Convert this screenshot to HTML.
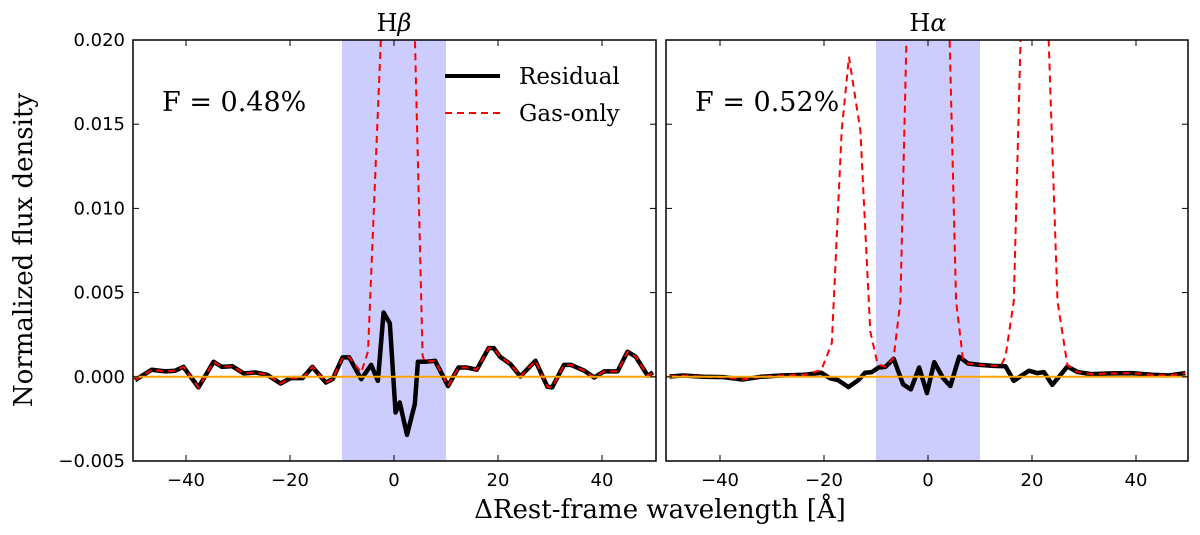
<!DOCTYPE html>
<html><head><meta charset="utf-8"><style>
body{margin:0;background:#fff;}
svg text{font-family:"DejaVu Sans","Liberation Sans",sans-serif;}
.serif{font-family:"DejaVu Serif","Liberation Serif",serif;}
</style></head><body>
<svg id="chart" width="1200" height="530" viewBox="0 0 1200 530" xmlns="http://www.w3.org/2000/svg"></svg>
<script>
// Left panel (H-beta) data, flux in units of 1e-3
const hbResX=[-49.8,-46.6,-44.0,-42.1,-40.5,-37.6,-34.7,-33.1,-31.1,-28.9,-26.6,-24.4,-21.8,-19.9,-17.6,-15.7,-13.1,-11.8,-9.9,-8.6,-6.3,-4.4,-3.1,-2.0,-0.8,0.3,1.1,2.5,4.0,4.6,5.9,7.9,10.4,12.4,14.0,15.9,18.2,19.2,20.4,22.4,24.3,27.2,29.5,30.4,32.7,34.0,36.6,38.5,40.4,43.0,44.9,46.5,48.8,49.8];
const hbResY=[-0.20,0.42,0.32,0.36,0.59,-0.63,0.89,0.59,0.63,0.20,0.26,0.12,-0.40,-0.08,-0.08,0.59,-0.34,-0.14,1.15,1.15,-0.14,0.71,-0.24,3.82,3.17,-2.12,-1.52,-3.45,-1.62,0.89,0.89,0.95,-0.55,0.55,0.55,0.42,1.70,1.70,1.19,0.75,0.02,0.95,-0.59,-0.63,0.71,0.71,0.36,-0.04,0.32,0.32,1.49,1.19,0.06,0.26];
const hbGasX=[-49.8,-46.6,-44.0,-42.1,-40.5,-37.6,-34.7,-33.1,-31.1,-28.9,-26.6,-24.4,-21.8,-19.9,-17.6,-15.7,-13.1,-11.8,-9.9,-8.6,-6.3,-5.0,-2.0,0.5,3.4,5.5,5.9,7.9,10.4,12.4,14.0,15.9,18.2,19.2,20.4,22.4,24.3,27.2,29.5,30.4,32.7,34.0,36.6,38.5,40.4,43.0,44.9,46.5,48.8,49.8];
const hbGasY=[-0.20,0.42,0.32,0.36,0.59,-0.63,0.89,0.59,0.63,0.20,0.26,0.12,-0.40,-0.08,-0.08,0.59,-0.34,-0.14,1.15,1.15,0.26,1.5,24,60,28,1.25,0.89,0.95,-0.55,0.55,0.55,0.42,1.70,1.70,1.19,0.75,0.02,0.95,-0.59,-0.63,0.71,0.71,0.36,-0.04,0.32,0.32,1.49,1.19,0.06,0.26];
// Right panel (H-alpha)
const haResX=[-49.7,-47.1,-43.2,-39.3,-35.7,-32.2,-28.3,-23.7,-20.5,-18.9,-17.3,-15.3,-13.4,-12.1,-10.8,-9.5,-8.2,-6.6,-4.8,-3.3,-1.7,-0.2,1.2,2.9,4.3,6.0,7.7,10.0,12.6,14.9,16.5,19.4,21.0,22.3,23.9,26.8,28.8,31.4,35.3,39.2,43.1,46.3,49.5];
const haResY=[0.02,0.08,0,-0.02,-0.16,0,0.08,0.12,0.24,-0.08,-0.2,-0.61,-0.2,0.24,0.28,0.55,0.59,1.07,-0.44,-0.75,0.55,-0.97,0.87,-0.08,-0.55,1.19,0.79,0.71,0.65,0.63,-0.24,0.36,0.22,0.28,-0.48,0.61,0.28,0.16,0.2,0.22,0.12,0.08,0.22];
const haGasX=[-49.7,-47.1,-43.2,-39.3,-35.7,-32.2,-28.3,-23.7,-20.5,-18.5,-16.6,-15.2,-13.0,-11.1,-9.7,-8.2,-6.6,-5.3,-4.0,-2.7,0,2.7,4.0,5.4,6.7,7.7,10.0,12.6,14.0,14.9,16.5,17.8,20.4,23.2,24.9,26.8,28.8,31.4,35.3,39.2,43.1,46.3,49.5];
const haGasY=[0.02,0.08,0,-0.02,-0.16,0,0.08,0.12,0.4,2,14.6,19,14.6,2.7,0.75,0.59,1.15,4.5,22,80,150,80,22,4.5,1.1,0.79,0.71,0.65,0.65,1.2,4.5,20,57,20,4.5,0.7,0.28,0.16,0.2,0.22,0.12,0.08,0.22];
const xTicks=[-40,-20,0,20,40];
const yTicks=[-0.005,0,0.005,0.010,0.015,0.020];
const yTickLabels=["\u22120.005","0.000","0.005","0.010","0.015","0.020"];

const NS="http://www.w3.org/2000/svg";
const svg=document.getElementById('chart');
function mk(tag,attrs,parent){const e=document.createElementNS(NS,tag);for(const k in attrs)e.setAttribute(k,attrs[k]);(parent||svg).appendChild(e);return e;}
const yTop=40,yBot=461;
function yS(v){return yTop+(0.020-v)/0.025*(yBot-yTop);}
const panels=[
 {x0:133,x1:656,c:394,s:5.2,rx:hbResX,ry:hbResY,gx:hbGasX,gy:hbGasY,title:"\u03B2",F:"F = 0.48%",name:"hbeta"},
 {x0:666,x1:1188,c:928,s:5.2,rx:haResX,ry:haResY,gx:haGasX,gy:haGasY,title:"\u03B1",F:"F = 0.52%",name:"halpha"}
];
panels.forEach((p,i)=>{
 const xS=v=>p.c+v*p.s;
 const g=mk('g',{});
 
 
 const cp=mk('clipPath',{id:'clip'+i},g);
 mk('rect',{x:p.x0,y:yTop,width:p.x1-p.x0,height:yBot-yTop},cp);
 const band=mk('rect',{x:xS(-10),y:yTop,width:xS(10)-xS(-10),height:yBot-yTop,fill:'#ccccff'},g);
 
 
 const cg=mk('g',{'clip-path':'url(#clip'+i+')'},g);
 const rp=mk('polyline',{points:p.rx.map((x,j)=>xS(x)+','+yS(p.ry[j]/1000)).join(' '),fill:'none',stroke:'#000','stroke-width':4.5,'stroke-linejoin':'round'},cg);
 
 
 const gp=mk('polyline',{points:p.gx.map((x,j)=>xS(x)+','+yS(p.gy[j]/1000)).join(' '),fill:'none',stroke:'#ff0000','stroke-width':2,'stroke-dasharray':'7,5'},cg);
 
 
 const zl=mk('line',{x1:p.x0,x2:p.x1,y1:yS(0),y2:yS(0),stroke:'#ffa500','stroke-width':2},g);
 
 
 const fr=mk('rect',{x:p.x0,y:yTop,width:p.x1-p.x0,height:yBot-yTop,fill:'none',stroke:'#000','stroke-width':1.5},g);
 
 
 xTicks.forEach(t=>{
  const x=xS(t);
  mk('line',{x1:x,x2:x,y1:yBot,y2:yBot-6,stroke:'#000'},g);
  mk('line',{x1:x,x2:x,y1:yTop,y2:yTop+6,stroke:'#000'},g);
  const tl=mk('text',{x:x,y:486,'font-size':18,'text-anchor':'middle'},g);
  tl.textContent=(t<0?'\u2212':'')+Math.abs(t);
  
  
 });
 yTicks.forEach((t,j)=>{
  const y=yS(t);
  mk('line',{x1:p.x0,x2:p.x0+6,y1:y,y2:y,stroke:'#000'},g);
  mk('line',{x1:p.x1,x2:p.x1-6,y1:y,y2:y,stroke:'#000'},g);
  if(i===0){
   const tl=mk('text',{x:125,y:y+6,'font-size':18,'text-anchor':'end'},g);
   tl.textContent=yTickLabels[j];
   
   
  }
 });
 const ti=mk('text',{x:p.c,y:31,'font-size':24,'text-anchor':'middle',class:'serif'},g);
 ti.textContent='H';
 const ts=mk('tspan',{'font-style':'italic'},ti);
 ts.textContent=p.title;
 
 
 const ft=mk('text',{x:p.x0+29,y:111,'font-size':27,class:'serif'},g);
 ft.textContent=p.F;
 
 
});
// legend
const lg=mk('g',{});


mk('line',{x1:445,x2:500,y1:76,y2:76,stroke:'#000','stroke-width':4},lg);
const l1=mk('text',{x:519,y:84,'font-size':23,class:'serif'},lg);l1.textContent='Residual';


mk('line',{x1:445,x2:500,y1:113,y2:113,stroke:'#ff0000','stroke-width':2,'stroke-dasharray':'7,5'},lg);
const l2=mk('text',{x:519,y:121,'font-size':23,class:'serif'},lg);l2.textContent='Gas-only';


const yl=mk('text',{x:0,y:0,'font-size':26,'text-anchor':'middle',class:'serif',transform:'translate(32,250) rotate(-90)'});
yl.textContent='Normalized flux density';


const xl=mk('text',{x:660,y:518,'font-size':26,'text-anchor':'middle',class:'serif'});
xl.textContent='\u0394Rest-frame wavelength [\u00C5]';


</script>
</body></html>
